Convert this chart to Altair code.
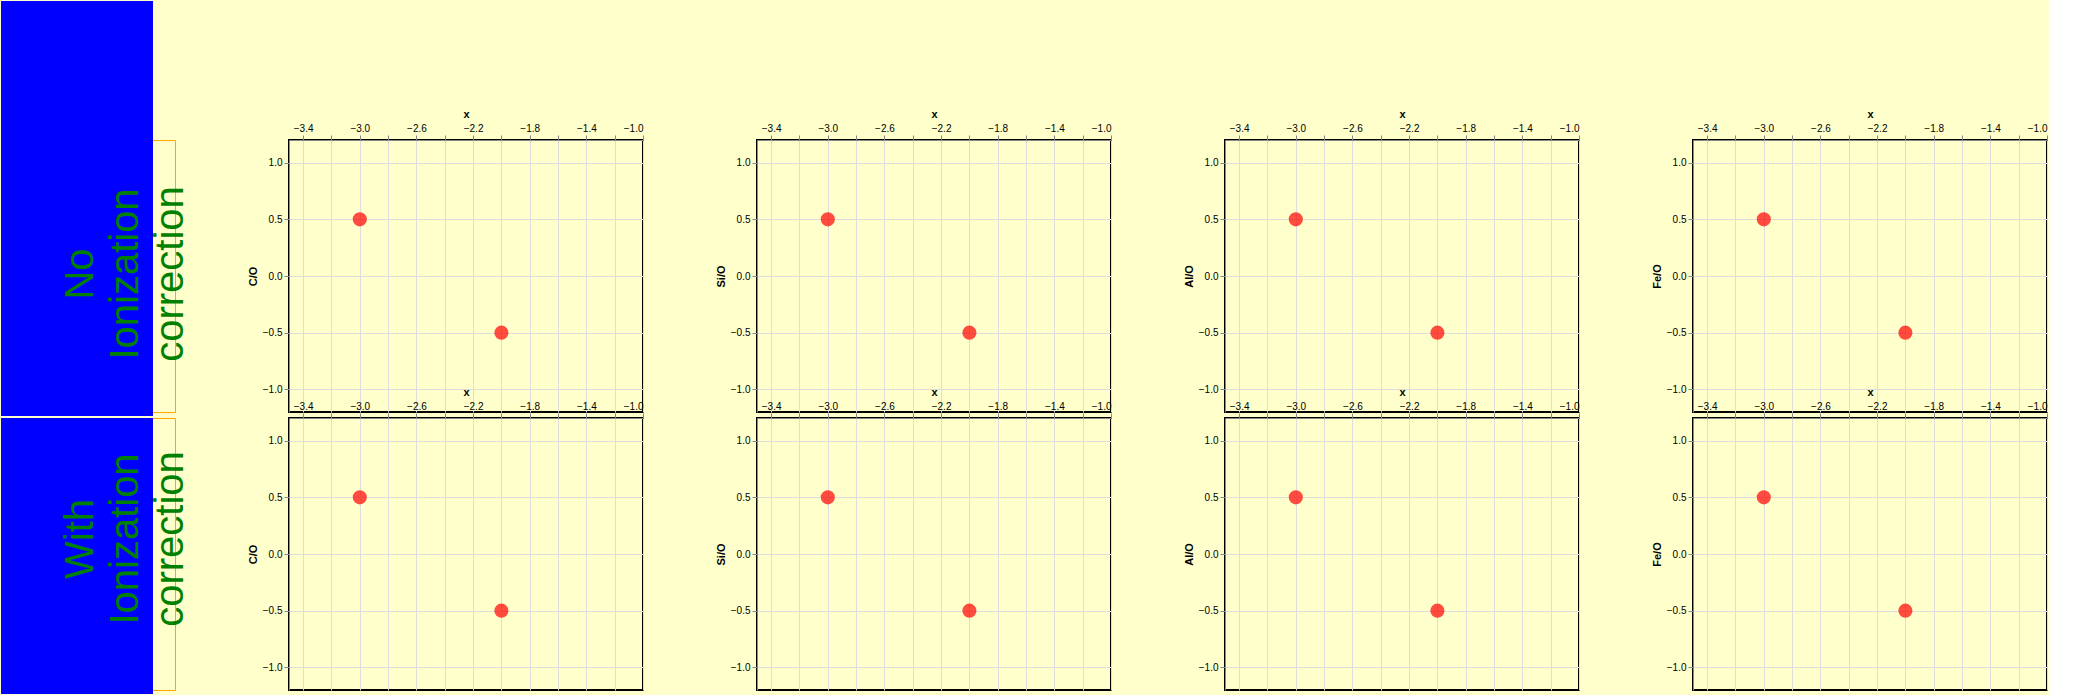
import altair as alt
import pandas as pd

RATIOS = ["C/O", "Si/O", "Al/O", "Fe/O"]
ROW_LABELS = [["No", "Ionization", "correction"], ["With", "Ionization", "correction"]]
W, H = 354, 272


def make_panel(k, row):
    df = pd.DataFrame({"x": [-3.0, -2.0], "y": [0.5, -0.5]})
    return alt.Chart(df).mark_point(color="red", size=200, filled=True).encode(
        x=alt.X("x:Q", scale=alt.Scale(domain=[-3.5, -1.0]), axis=alt.Axis(orient="top")),
        y=alt.Y("y:Q", scale=alt.Scale(domain=[-1.2, 1.2]), title=RATIOS[k]),
    ).properties(width=W, height=H, view=alt.ViewBackground(stroke="black", strokeWidth=2))


def label_chart(row):
    base = alt.Chart(pd.DataFrame({"row": [row]}))
    layers = []
    layers.append(base.mark_rect(color="blue").encode(
        x=alt.value(0), x2=alt.value(152), y=alt.value(-139 if row == 0 else 0), y2=alt.value(H + 4)))
    layers.append(base.mark_text(
        text=ROW_LABELS[row], angle=270, align="center", baseline="middle",
        fontSize=40, lineHeight=45, color="green",
    ).encode(x=alt.value(80), y=alt.value(134 if row == 0 else 121)))
    return alt.layer(*layers).properties(
        width=174, height=H, view=alt.ViewBackground(stroke="orange"))


cells = [label_chart(0)] + [make_panel(k, 0) for k in range(4)] + \
        [label_chart(1)] + [make_panel(k, 1) for k in range(4)]

chart = alt.concat(
    *cells, columns=5, spacing={"row": 6, "column": 114}, bounds="flush", align="each"
).properties(padding=0, background="#ffffcc")

chart.save("out.html", embed_options={"renderer": "svg", "actions": False})
